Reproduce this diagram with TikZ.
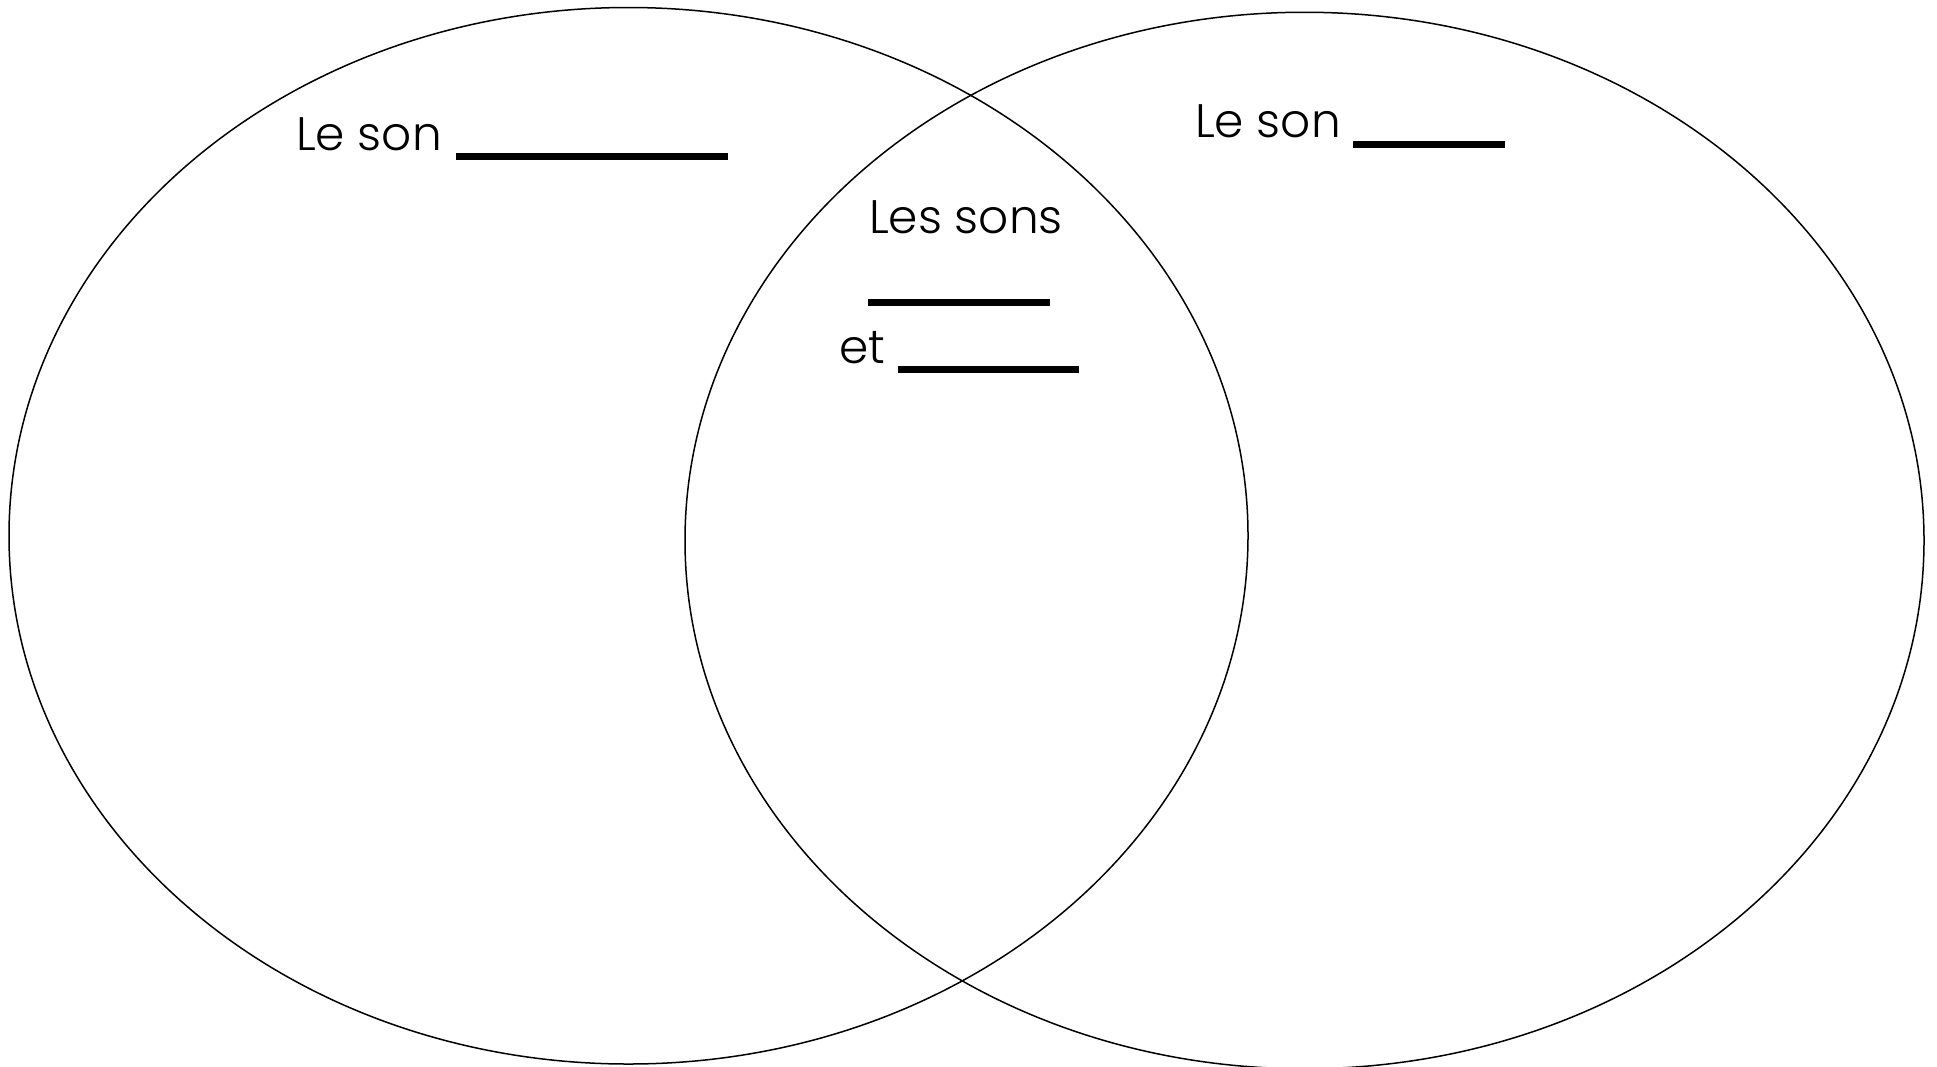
\documentclass[tikz,border=0pt]{standalone}
\usepackage{fontspec}
\IfFontExistsTF{Poppins Light}{\setmainfont{Poppins Light}}{\setmainfont{Poppins}}
\usetikzlibrary{positioning}

\tikzset{
  setline/.style={draw=black,line width=0.75pt},
  blankline/.style={draw=black,line width=3.5pt,line cap=butt},
  lbl/.style={anchor=base west,inner sep=0pt,outer sep=0pt,
    font=\fontsize{23.5}{28}\selectfont}
}

\begin{document}
\begin{tikzpicture}[x=0.5pt,y=-0.5pt]
  \path[fill=white] (0,0) rectangle (1937,1066);
  \useasboundingbox (0,0) rectangle (1937,1066);
  % the two sets
  \path[setline] (628.5,535.75) ellipse [x radius=619.5, y radius=528.25];
  \path[setline] (1304.5,540.5) ellipse [x radius=619.5, y radius=528.25];
  % left set
  \path (296,150) node[lbl] (sonleft) {Le son};
  \path[blankline] (456,156.5) -- (728,156.5);
  % right set
  \path (1195,137) node[lbl] (sonright) {Le son};
  \path[blankline] (1353,144) -- (1505,144);
  % common part
  \path (869,233) node[lbl] (sonsboth) {Les sons};
  \path[blankline] (868,302) -- (1050,302);
  \path (839,363) node[lbl] (sonset) {et};
  \path[blankline] (898,369.5) -- (1079,369.5);
\end{tikzpicture}
\end{document}
